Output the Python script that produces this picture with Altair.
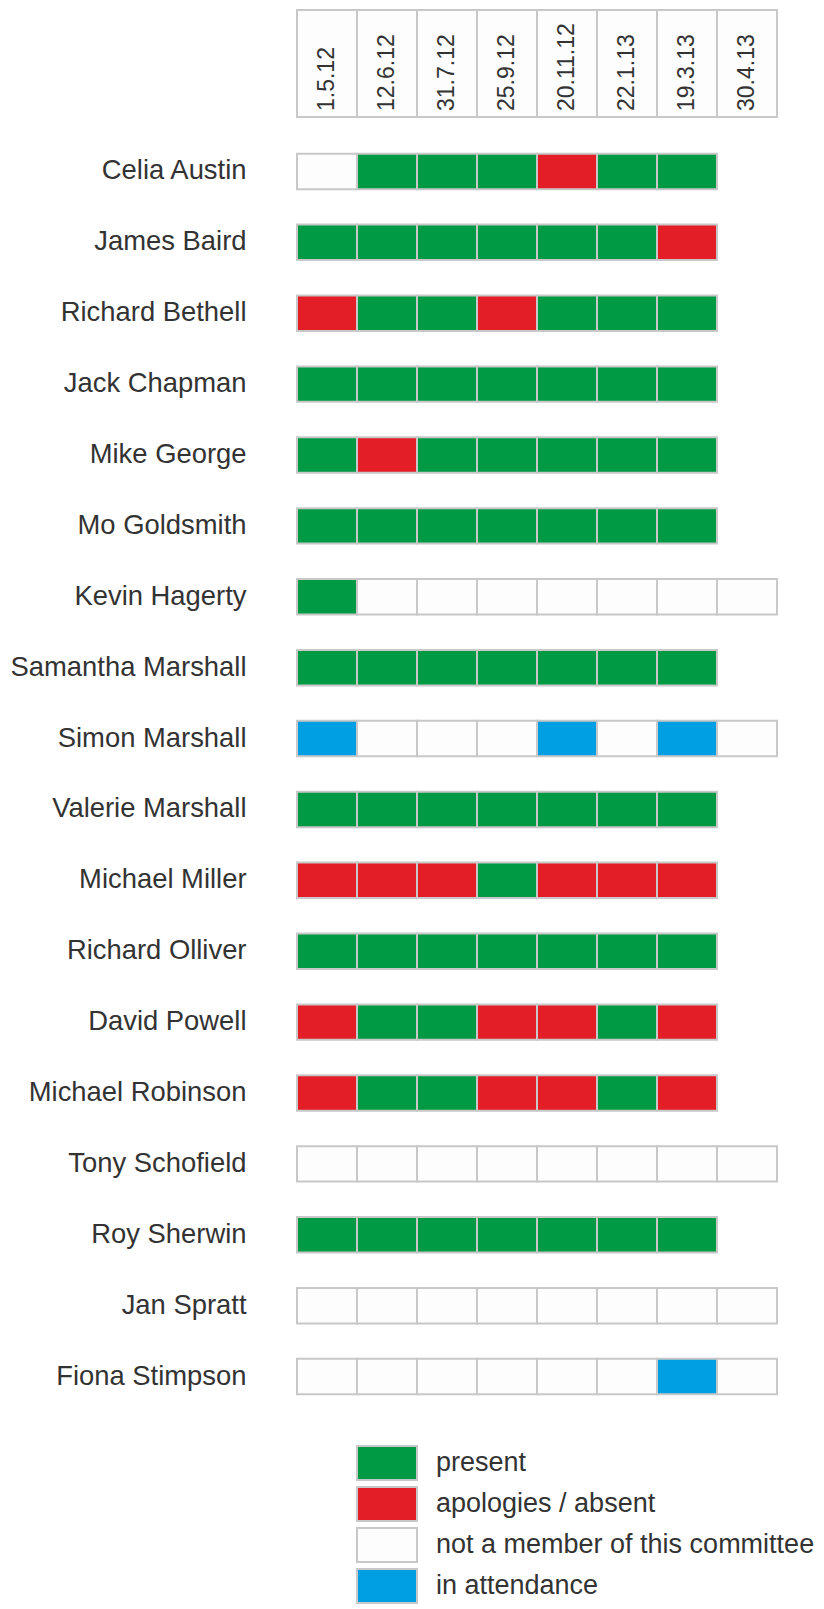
import altair as alt
import pandas as pd

FONT = "Liberation Sans"

dates = ["1.5.12", "12.6.12", "31.7.12", "25.9.12", "20.11.12", "22.1.13", "19.3.13", "30.4.13"]

names = ["Celia Austin", "James Baird", "Richard Bethell", "Jack Chapman", "Mike George",
         "Mo Goldsmith", "Kevin Hagerty", "Samantha Marshall", "Simon Marshall",
         "Valerie Marshall", "Michael Miller", "Richard Olliver", "David Powell",
         "Michael Robinson", "Tony Schofield", "Roy Sherwin", "Jan Spratt", "Fiona Stimpson"]

# P = present, A = apologies / absent, N = not a member, T = in attendance
celia_austin = ["N", "P", "P", "P", "A", "P", "P"]
james_baird = ["P", "P", "P", "P", "P", "P", "A"]
richard_bethell = ["A", "P", "P", "A", "P", "P", "P"]
jack_chapman = ["P", "P", "P", "P", "P", "P", "P"]
mike_george = ["P", "A", "P", "P", "P", "P", "P"]
mo_goldsmith = ["P", "P", "P", "P", "P", "P", "P"]
kevin_hagerty = ["P", "N", "N", "N", "N", "N", "N", "N"]
samantha_marshall = ["P", "P", "P", "P", "P", "P", "P"]
simon_marshall = ["T", "N", "N", "N", "T", "N", "T", "N"]
valerie_marshall = ["P", "P", "P", "P", "P", "P", "P"]
michael_miller = ["A", "A", "A", "P", "A", "A", "A"]
richard_olliver = ["P", "P", "P", "P", "P", "P", "P"]
david_powell = ["A", "P", "P", "A", "A", "P", "A"]
michael_robinson = ["A", "P", "P", "A", "A", "P", "A"]
tony_schofield = ["N", "N", "N", "N", "N", "N", "N", "N"]
roy_sherwin = ["P", "P", "P", "P", "P", "P", "P"]
jan_spratt = ["N", "N", "N", "N", "N", "N", "N", "N"]
fiona_stimpson = ["N", "N", "N", "N", "N", "N", "T", "N"]

rows = [celia_austin, james_baird, richard_bethell, jack_chapman, mike_george,
        mo_goldsmith, kevin_hagerty, samantha_marshall, simon_marshall,
        valerie_marshall, michael_miller, richard_olliver, david_powell,
        michael_robinson, tony_schofield, roy_sherwin, jan_spratt, fiona_stimpson]

status_codes = ["P", "A", "N", "T"]
status_labels = ["present", "apologies / absent", "not a member of this committee", "in attendance"]
status_colors = ["#009a44", "#e31e26", "#fdfdfd", "#009fe3"]
code_to_label = dict(zip(status_codes, status_labels))

records = []
for name, row in zip(names, rows):
    for date, code in zip(dates, row):
        records.append({"name": name, "date": date, "status": code_to_label[code]})
df = pd.DataFrame(records)
hdf = pd.DataFrame({"date": dates})

xscale = alt.Scale(paddingInner=0, paddingOuter=0)

header_base = alt.Chart(hdf).encode(
    x=alt.X("date:N", sort=dates, axis=None, scale=xscale)
)
header = alt.layer(
    header_base.mark_rect(fill="#fdfdfd", stroke="#c8c8c8", strokeWidth=2),
    header_base.mark_text(angle=270, align="left", baseline="middle", fontSize=23,
                          color="#333333", font=FONT).encode(text="date:N", y=alt.value(101)),
).properties(width=480, height=107)

main = alt.Chart(df).mark_rect(stroke="#c8c8c8", strokeWidth=2).encode(
    x=alt.X("date:N", sort=dates, axis=None, scale=xscale),
    y=alt.Y("name:N", sort=names, title=None,
            scale=alt.Scale(paddingInner=0.5, paddingOuter=0.25),
            axis=alt.Axis(ticks=False, domain=False, labelPadding=51, labelFontSize=27.4,
                          labelColor="#333333", labelFont=FONT, labelLimit=400)),
    color=alt.Color("status:N",
                    scale=alt.Scale(domain=status_labels, range=status_colors),
                    legend=alt.Legend(title=None, orient="none", legendX=70.5, legendY=1433.5,
                                      symbolType="M-1.622,-0.919H1.622V0.919H-1.622Z", symbolSize=1369,
                                      symbolStrokeColor="#c8c8c8", symbolStrokeWidth=2,
                                      symbolOpacity=1, labelFontSize=27, labelColor="#333333",
                                      labelFont=FONT, labelLimit=600, labelOffset=29.5,
                                      rowPadding=-3, padding=0)),
).properties(width=480, height=1276)

chart = alt.vconcat(header, main, spacing=19, bounds="flush").properties(
    padding={"left": 2, "top": 1, "right": 0, "bottom": 0}
).configure_view(stroke=None)

chart.save("out.html", embed_options={"renderer": "svg", "actions": False})
